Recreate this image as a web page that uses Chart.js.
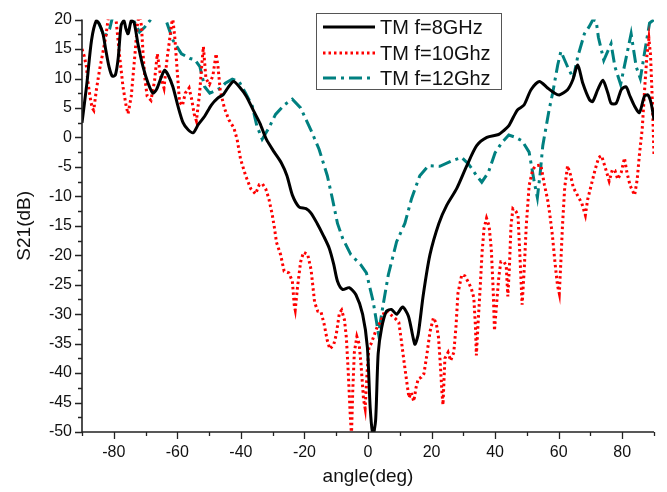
<!DOCTYPE html>
<html>
<head>
<meta charset="utf-8">
<script src="https://cdn.jsdelivr.net/npm/chart.js@4.4.0/dist/chart.umd.min.js"></script>
<style>
  html, body { margin: 0; padding: 0; background: #fff; }
  #wrap { width: 667px; height: 492px; position: relative; }
</style>
</head>
<body>
<div id="wrap"><canvas id="c"></canvas></div>
<script>
// ---- Data ----
const seriesNames = ['TM f=8GHz', 'TM f=10Ghz', 'TM f=12Ghz'];

const angles8 = [-90,-88.5,-87,-85.5,-84.5,-83.4,-82.5,-81.5,-80.5,-79.5,-78.6,-77.7,-76.8,-76.2,-75.5,-74.5,-73.6,-72.4,-70.8,-69.2,-67.7,-66.5,-65,-64,-62.9,-61.4,-59.8,-58.2,-56.6,-55,-53.4,-51.4,-49.3,-47.2,-45.5,-44,-42.3,-40.5,-38.3,-36,-34,-32,-29.5,-27.3,-25.5,-23.8,-21.7,-19.5,-18,-16,-14,-12.2,-10.8,-9.6,-8,-5.9,-3.8,-1.7,-0.2,0.7,1.6,2.4,3.2,4.3,5.8,7.4,9,10.9,12.7,14.2,14.8,15.8,17.4,19.5,22.3,24.8,27.9,31.1,34.2,37.4,41.1,42.6,44.2,45.8,47.1,49.1,51.3,53.9,56.5,58.5,60.2,62.8,64.4,66,67.6,69.7,70.7,72.3,73.9,75.5,76.5,78.1,79.7,81.2,82.3,83.9,85.4,87,88.1,89.1,90];
const s21_8 = [2.5,9,16.5,19.8,19.2,17.6,14.8,12,10.4,10.6,13.5,19,19.8,18.5,17.6,19.8,19.5,15.9,12,9.2,7.5,8.2,10.3,11.4,10.6,8.6,5.3,2.5,1.3,0.8,2.2,3.6,5.5,6.7,7.3,8.5,9.5,8.6,7.0,4.5,2.4,-0.3,-2.5,-4.3,-6.5,-9.8,-11.8,-12.1,-12.8,-14.6,-16.7,-18.8,-21.5,-24.4,-25.8,-25.5,-26.7,-30,-35.6,-46,-50.5,-48,-36.7,-32.3,-29.5,-29.2,-30,-28.8,-30.3,-34,-35.1,-33.4,-26.7,-19.9,-14.6,-11.5,-8.7,-4.8,-1.4,0,0.5,1.1,1.9,3.5,4.7,5.5,8.1,9.5,8.4,7.6,7.2,8.1,9.7,12.3,9.2,6.4,6.1,8.1,9.7,7.5,5.8,5.8,8.1,8.6,7.2,5.3,4.2,7,7.2,5.8,3];

const angles10 = [-90,-89.3,-88.6,-88.2,-87.5,-86.8,-86.3,-85.5,-84.5,-83.4,-82.4,-81.8,-80.8,-79.8,-79.2,-78.2,-77.1,-76.1,-75.5,-74.5,-73.4,-72.6,-72,-71.3,-70.7,-70.2,-69.5,-68.3,-67.2,-66.3,-65.3,-64.2,-63.2,-62.2,-61.5,-60.8,-60,-59.3,-58.4,-57.5,-56.3,-55.5,-54.7,-54,-53,-52.2,-51.8,-51,-49.9,-48.8,-47.8,-47.2,-46.5,-45.2,-43.8,-42.2,-41.2,-40.1,-38.5,-36.9,-35.4,-34.2,-33.2,-32.2,-31.2,-30.1,-29.4,-28.8,-27.5,-26.4,-24.9,-23.8,-23.2,-22.9,-22.2,-21.2,-20.3,-19,-17.9,-16.8,-15.8,-14.8,-13.8,-12.8,-12,-10.8,-10,-9,-8.3,-7.4,-6.8,-6.2,-5.6,-5.2,-4.8,-4.3,-3.5,-2.8,-2.2,-1.4,-0.9,-0.3,0.3,1,1.8,3,3.9,5.2,6.2,7.6,8.7,9.7,10.5,11.3,12.2,12.9,13.6,14.4,15.1,15.8,16.8,17.6,18.5,19.5,20.6,21.5,22.2,22.7,23.3,23.6,24.2,25.2,26,27,27.7,28.3,29.5,30.5,31.5,32.5,33.3,33.8,34.1,34.7,35.3,35.9,36.5,37.3,38.1,38.8,39.4,39.8,40.5,41.2,41.8,42.8,43.5,44,44.5,45,45.6,46.5,47.2,47.8,48.5,49.2,49.8,50.7,51.8,52.8,54.4,55.5,56.5,57.2,58,58.8,59.6,60.2,60.7,61.2,61.9,62.8,63.7,64.6,66,67.3,68.4,69.1,70.2,71.5,72.6,73.5,74.7,75.9,76.9,77.7,78.6,79.7,80.7,81.5,82.5,83.9,84.7,85.4,86.3,87.1,87.8,88.4,88.9,89.5,90];
const s21_10 = [15,13.8,12,9.7,7,5,4.6,8,11.4,14.5,17.5,20,22,21,19.5,14,8.6,5.3,4,7,13.7,19,21,19,13.5,10,7,6.3,9.5,14.2,10.5,8.4,13.5,17.5,20.5,17,11,6,5.4,7.5,8.4,6.5,4,2.8,7.5,13,15.4,10,9,10.5,14.2,12,8,5,3,1.6,-0.3,-3.7,-6.5,-8.7,-9.6,-8,-7.9,-8.7,-10.4,-13.2,-15.5,-17.8,-19.9,-22.7,-23,-24.4,-28.5,-29.3,-25.5,-21.1,-19.5,-19.8,-22.5,-28,-29.5,-29.6,-31.7,-34.5,-35.9,-35.2,-33.5,-29.8,-29.3,-31,-34,-40,-47,-50.5,-43,-36.5,-33.8,-35,-38.5,-44.5,-46,-40,-35.6,-35,-33.8,-32,-31.4,-29.5,-29.6,-30.3,-30.8,-31.4,-34.5,-37.9,-41.5,-44.2,-43.3,-44.8,-42.5,-41,-40.7,-40.1,-37,-33,-30.6,-31.6,-34,-38,-43.5,-45.4,-37.5,-36.5,-37.9,-36.5,-32,-26.5,-23.3,-23.5,-24.5,-25.6,-27.2,-32,-37,-31,-25.5,-19.5,-15.5,-13.7,-15,-19,-26,-32.8,-28,-23.5,-21.1,-21.1,-21.8,-27,-22,-15,-12.1,-12.5,-13.2,-20,-28.4,-22,-15,-8.2,-5.5,-4.8,-4.7,-8,-10.5,-13,-16.5,-21,-25,-26.5,-21,-15,-8.5,-4.8,-6.3,-8.5,-9.9,-11.2,-13.2,-10.6,-8.2,-5.4,-3.4,-3.1,-5.2,-7.4,-5.5,-5.6,-7.1,-5.9,-3.5,-6,-8.2,-9.8,-7.2,-3,1.5,8.6,14,16.8,14,6,-3.1];

const angles12 = [-90,-86.5,-85,-83.8,-82.9,-81.3,-80.5,-78,-75,-73.9,-71.9,-70.3,-68.4,-66,-64,-63.5,-61.4,-58.7,-56,-54.5,-52.9,-51.4,-49.8,-46.3,-44.9,-42.7,-40.6,-38.5,-36.4,-35,-33.3,-31.2,-29.1,-26.4,-23.8,-21.2,-18,-15.4,-12.8,-11.2,-9.6,-8,-5.4,-2.3,-0.5,1.6,3.3,4.8,6.4,9,11.6,13.7,16.3,19,22.6,26.3,29.5,31.6,34.2,35.8,37.9,40,42.1,44.3,46.5,48.5,50.7,52.3,53.3,54.2,55,57,58.1,59.7,60.7,62.8,64.6,66,68.1,69.6,70.8,71.8,72.5,74.2,76.5,77.7,79.5,81.8,82.8,84.4,85.7,87.5,88.6,90];
const s21_12 = [23,21,19.8,18.2,17,18.4,20.2,22,21,20,17.9,18.7,20,22,20.3,19.8,16.5,14.2,13.4,13.2,12,8.6,7.5,8.4,9.2,9.9,9.5,7.5,5.3,2,-0.3,1.6,3.9,5.5,6.5,5,1.3,-2,-6.5,-10.4,-14.6,-17.1,-19.9,-21.6,-23,-27.8,-33.3,-28.3,-23.3,-17.7,-14.6,-10.4,-6.5,-4.8,-4.9,-4,-3.4,-4.5,-6.5,-7.6,-5.9,-2.6,-0.9,0.4,0,-0.6,-2.5,-7.5,-10.2,-6,-1.4,4.7,7.5,12.3,14.6,12,10,13.7,17.6,18.8,20,19.8,17,13.1,15.9,12,9,15,17.6,12,10,15.9,19.4,20];

const xTickValues = [-80, -60, -40, -20, 0, 20, 40, 60, 80];
const yTickValues = [-50, -45, -40, -35, -30, -25, -20, -15, -10, -5, 0, 5, 10, 15, 20];

// ---- Helpers ----
const toPts = (xs, ys) => xs.map((a, i) => ({ x: a, y: ys[i] }));

const AXIS_COLOR = '#222';

const axesPlugin = {
  id: 'originAxes',
  afterDatasetsDraw(chart) {
    const { ctx, chartArea: a, scales: { x, y } } = chart;
    ctx.save();
    ctx.strokeStyle = AXIS_COLOR;
    ctx.lineWidth = 1.6;
    ctx.beginPath();
    ctx.moveTo(a.left, a.top);
    ctx.lineTo(a.left, a.bottom);
    ctx.lineTo(a.right, a.bottom);
    ctx.stroke();
    ctx.lineWidth = 1.3;
    ctx.beginPath();
    // x ticks: major every 20, minor every 10
    for (let v = x.min; v <= x.max + 1e-9; v += 10) {
      const px = Math.round(x.getPixelForValue(v)) + 0.5;
      const len = (Math.abs(v) % 20 === 0) ? 7 : 4;
      ctx.moveTo(px, a.bottom);
      ctx.lineTo(px, a.bottom + len);
    }
    // y ticks: major every 5, minor every 2.5
    for (let v = y.min; v <= y.max + 1e-9; v += 2.5) {
      const py = Math.round(y.getPixelForValue(v)) + 0.5;
      const len = (Math.abs(v) % 5 === 0) ? 7 : 4;
      ctx.moveTo(a.left, py);
      ctx.lineTo(a.left - len, py);
    }
    ctx.stroke();
    ctx.restore();
  }
};

const legendPlugin = {
  id: 'boxLegend',
  afterDraw(chart) {
    const { ctx } = chart;
    const bx = 316.5, by = 13.5, bw = 185, bh = 76;
    ctx.save();
    ctx.fillStyle = '#fff';
    ctx.fillRect(bx, by, bw, bh);
    ctx.strokeStyle = '#555';
    ctx.lineWidth = 1;
    ctx.strokeRect(bx, by, bw, bh);
    const rows = [27, 53, 78];
    chart.data.datasets.forEach((ds, i) => {
      const yy = rows[i];
      ctx.beginPath();
      ctx.strokeStyle = ds.borderColor;
      ctx.lineWidth = ds.borderWidth;
      ctx.setLineDash(ds.borderDash || []);
      ctx.lineCap = 'butt';
      ctx.moveTo(323, yy);
      ctx.lineTo(375, yy);
      ctx.stroke();
      ctx.setLineDash([]);
      ctx.fillStyle = '#111';
      ctx.font = '20px "Liberation Sans", Arial, sans-serif';
      ctx.textBaseline = 'middle';
      ctx.textAlign = 'left';
      ctx.fillText(ds.label, 380, yy + 1);
    });
    ctx.restore();
  }
};

new Chart(document.getElementById('c'), {
  type: 'line',
  data: {
    datasets: [
      {
        label: seriesNames[0],
        data: toPts(angles8, s21_8),
        borderColor: '#000000',
        borderWidth: 3,
        pointRadius: 0,
        tension: 0.25,
        fill: false,
        clip: 0
      },
      {
        label: seriesNames[1],
        data: toPts(angles10, s21_10),
        borderColor: '#ff0000',
        borderWidth: 3,
        borderDash: [2.5, 3],
        borderCapStyle: 'butt',
        pointRadius: 0,
        tension: 0,
        fill: false,
        clip: 0
      },
      {
        label: seriesNames[2],
        data: toPts(angles12, s21_12),
        borderColor: '#008080',
        borderWidth: 3,
        borderDash: [13, 5, 3, 5],
        borderCapStyle: 'butt',
        pointRadius: 0,
        tension: 0,
        fill: false,
        clip: 0
      }
    ]
  },
  options: {
    responsive: true,
    maintainAspectRatio: false,
    animation: false,
    devicePixelRatio: 1,
    layout: { padding: { top: 15, right: 13, left: 0, bottom: 0 } },
    plugins: {
      legend: { display: false },
      tooltip: { enabled: false }
    },
    scales: {
      x: {
        type: 'linear',
        min: -90,
        max: 90,
        afterBuildTicks: (s) => { s.ticks = xTickValues.map(v => ({ value: v })); },
        afterFit: (s) => { s.height = 60; },
        grid: { display: false, drawTicks: false },
        border: { display: false },
        ticks: {
          padding: 11,
          color: '#111',
          font: { family: '"Liberation Sans", Arial, sans-serif', size: 16 },
          maxRotation: 0,
          autoSkip: false
        },
        title: {
          display: true,
          text: 'angle(deg)',
          color: '#111',
          font: { family: '"Liberation Sans", Arial, sans-serif', size: 19 },
          padding: { top: 0, bottom: 4 }
        }
      },
      y: {
        type: 'linear',
        min: -50,
        max: 20,
        afterBuildTicks: (s) => { s.ticks = yTickValues.map(v => ({ value: v })); },
        afterFit: (s) => { s.width = 82; },
        grid: { display: false, drawTicks: false },
        border: { display: false },
        ticks: {
          padding: 10,
          color: '#111',
          font: { family: '"Liberation Sans", Arial, sans-serif', size: 16 },
          autoSkip: false
        },
        title: {
          display: true,
          text: 'S21(dB)',
          color: '#111',
          font: { family: '"Liberation Sans", Arial, sans-serif', size: 19 },
          padding: { top: 13, bottom: 0 }
        }
      }
    }
  },
  plugins: [axesPlugin, legendPlugin]
});
</script>
</body>
</html>
